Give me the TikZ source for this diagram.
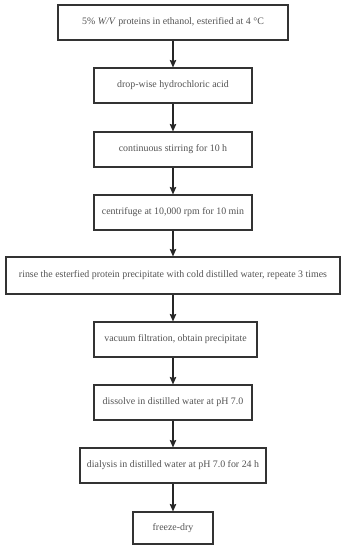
\documentclass[tikz,border=0pt]{standalone}
\usepackage{fontspec}
\setmainfont{Liberation Serif}
\usetikzlibrary{arrows.meta, calc}

\begin{document}
\begin{tikzpicture}[x=1pt, y=1pt, >={Stealth[length=7.5pt, width=6.5pt, inset=1pt]},
  stepbox/.style={draw=black!80, line width=1.1pt, minimum height=35pt, inner sep=2pt, text=black!68, font=\fontsize{9.9}{12}\selectfont},
  flow/.style={->, draw=black!85, line width=1.1pt}]
  \useasboundingbox (0,0) rectangle (346,-550);
  \node[stepbox, minimum width=230pt] (ester) at (173,-22.5) {5\% \textit{W/V} proteins in ethanol, esterified at 4 °C};
  \node[stepbox, minimum width=158pt] (acid) at (173,-85.5) {drop-wise hydrochloric acid};
  \node[stepbox, minimum width=158pt] (stir) at (173,-149.5) {continuous stirring for 10 h};
  \node[stepbox, minimum width=158pt] (centri) at (173,-212.5) {centrifuge at 10,000 rpm for 10 min};
  \node[stepbox, minimum width=334pt, minimum height=37pt] (rinse) at (173,-275.5) {rinse the esterfied protein precipitate with cold distilled water, repeate 3 times};
  \node[stepbox, minimum width=163pt] (filt) at (175.5,-339.5) {vacuum filtration, obtain precipitate};
  \node[stepbox, minimum width=158pt] (dissolve) at (173,-402.5) {dissolve in distilled water at pH 7.0};
  \node[stepbox, minimum width=186pt] (dialysis) at (173,-465.5) {dialysis in distilled water at pH 7.0 for 24 h};
  \node[stepbox, minimum width=80pt, minimum height=32pt] (freeze) at (173,-528) {freeze-dry};
  \draw[flow] (ester.south) -- (acid.north);
  \draw[flow] (acid.south) -- (stir.north);
  \draw[flow] (stir.south) -- (centri.north);
  \draw[flow] (centri.south) -- (rinse.north);
  \draw[flow] (rinse.south) -- (rinse.south |- filt.north);
  \draw[flow] (rinse.south |- filt.south) -- (dissolve.north);
  \draw[flow] (dissolve.south) -- (dialysis.north);
  \draw[flow] (dialysis.south) -- (freeze.north);
\end{tikzpicture}
\end{document}
